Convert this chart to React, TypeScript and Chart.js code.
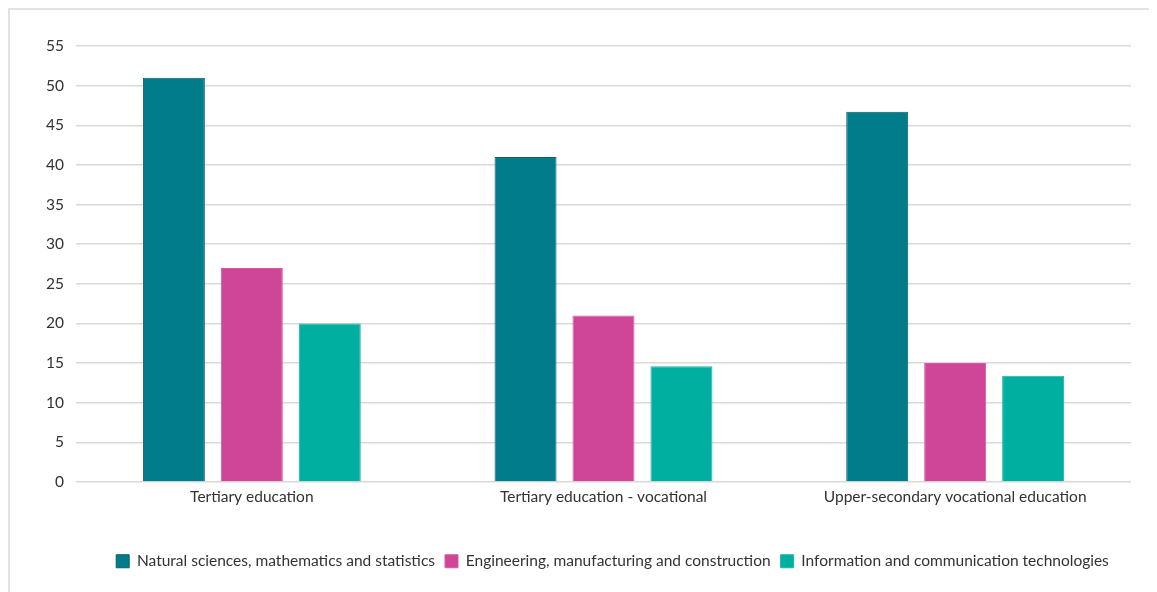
import React, { useEffect, useRef } from "react";
import { Chart, registerables } from "chart.js";

Chart.register(...registerables);

const categories = [
  "Tertiary education",
  "Tertiary education - vocational",
  "Upper-secondary vocational education",
];
const seriesNames = [
  "Natural sciences, mathematics and statistics",
  "Engineering, manufacturing and construction",
  "Information and communication technologies",
];
const naturalSciences = [51, 41, 46.7];
const engineering = [27, 21, 15];
const ict = [20, 14.6, 13.4];
const yTicks = [0, 5, 10, 15, 20, 25, 30, 35, 40, 45, 50, 55];

const FONT = "Lato, 'Open Sans', sans-serif";
const TEXT = "#333333";
const FONT_SIZE = 15.5;

// Nudges the legend row to the right so it sits under the plot area.
const legendShift = {
  id: "legendShift",
  afterLayout(chart: any) {
    const lg = chart.legend;
    if (!lg) return;
    lg.left += 42;
    lg.right += 42;
  },
};

export default function App() {
  const ref = useRef<HTMLCanvasElement | null>(null);

  useEffect(() => {
    if (!ref.current) return;
    const chart = new Chart(ref.current, {
      type: "bar",
      data: {
        labels: categories,
        datasets: [
          {
            label: seriesNames[0],
            data: naturalSciences,
            backgroundColor: "#007C8A",
            borderColor: "#0B5D68",
            borderWidth: 1,
          },
          {
            label: seriesNames[1],
            data: engineering,
            backgroundColor: "#CF4597",
            borderColor: "#D65AA3",
            borderWidth: 1,
          },
          {
            label: seriesNames[2],
            data: ict,
            backgroundColor: "#00AFA0",
            borderColor: "#1AB5A8",
            borderWidth: 1,
          },
        ],
      },
      options: {
        responsive: false,
        animation: false,
        layout: { padding: { top: 36, right: 26, bottom: 13, left: 0 } },
        datasets: {
          bar: { categoryPercentage: 0.665, barPercentage: 0.795 },
        },
        scales: {
          x: {
            grid: { display: false, drawTicks: false },
            border: { display: false },
            ticks: {
              color: TEXT,
              font: { family: FONT, size: FONT_SIZE },
              padding: 6,
            },
            afterFit: (scale: any) => {
              scale.height += 31;
            },
          },
          y: {
            min: 0,
            max: 55,
            afterBuildTicks: (scale: any) => {
              scale.ticks = yTicks.map((v) => ({ value: v }));
            },
            grid: { color: "#d9d9d9", lineWidth: 1.5, drawTicks: false },
            border: { display: false },
            ticks: {
              color: TEXT,
              font: { family: FONT, size: FONT_SIZE },
              padding: 12,
            },
            afterFit: (scale: any) => {
              scale.width = 66;
            },
          },
        },
        plugins: {
          legend: {
            position: "bottom",
            labels: {
              color: TEXT,
              font: { family: FONT, size: FONT_SIZE },
              boxWidth: 13,
              boxHeight: 13,
              padding: 10,
            },
          },
          tooltip: { enabled: false },
        },
      },
      plugins: [legendShift],
    });
    return () => chart.destroy();
  }, []);

  return (
    <div
      style={{
        borderLeft: "2px solid #e3e3e3",
        borderTop: "2px solid #e3e3e3",
        width: 1147,
        height: 582,
        background: "#fff",
      }}
    >
      <canvas ref={ref} width={1147} height={582} style={{ display: "block" }} />
    </div>
  );
}
